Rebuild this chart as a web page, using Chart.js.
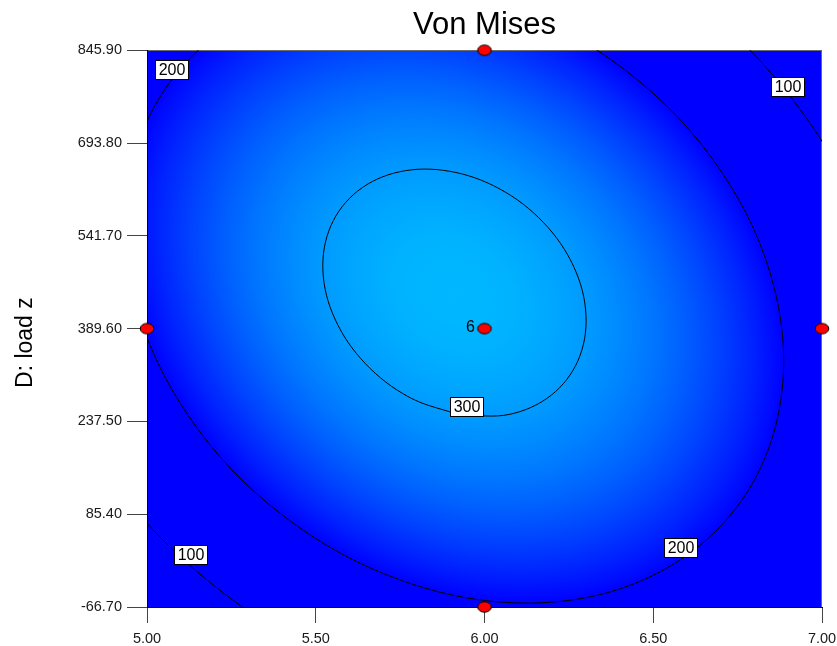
<!DOCTYPE html>
<html>
<head>
<meta charset="utf-8">
<script src="https://cdn.jsdelivr.net/npm/chart.js@4"></script>
<style>
  html, body { margin: 0; padding: 0; background: #ffffff; }
  #wrap { width: 837px; height: 646px; }
</style>
</head>
<body>
<div id="wrap"><canvas id="chart" width="837" height="646"></canvas></div>
<script>
// ---- chart text ----
const chartTitle = 'Von Mises';
const yAxisTitle = 'D: load z';

// ---- axis ticks ----
const xTickValues = [5.00, 5.50, 6.00, 6.50, 7.00];
const yTickValues = [-66.70, 85.40, 237.50, 389.60, 541.70, 693.80, 845.90];

// ---- design points (factor C on x, D: load z on y) and replicate counts ----
const designX = [6.00, 5.00, 6.00, 7.00, 6.00];
const designY = [845.90, 389.60, 389.60, 389.60, -66.70];
const designRuns = [1, 1, 6, 1, 1];

// ---- contour levels and their lines ----
const contourLevels = [300, 200, 100];

const contour300X = [5.9269, 5.7766, 5.6467, 5.5570, 5.5212, 5.5448, 5.6241, 5.7471, 5.8951, 6.0454, 6.1753, 6.2650, 6.3007, 6.2772, 6.1978, 6.0749, 5.9269];
const contour300Y = [247.9, 277.2, 332.4, 405.2, 484.4, 558.1, 615.0, 646.5, 647.6, 618.4, 563.1, 490.3, 411.1, 337.4, 280.5, 249.1, 247.9];

const contour200X = [5.6818, 6.0621, 6.4192, 6.6991, 6.8589, 6.8744, 6.7433, 6.4854, 6.1401, 5.7599, 5.4027, 5.1229, 4.9631, 4.9475, 5.0787, 5.3366, 5.6818];
const contour200Y = [955.7, 919.9, 812.2, 649.1, 455.3, 260.3, 93.9, -18.6, -60.2, -24.4, 83.3, 246.5, 440.3, 635.2, 801.6, 914.2, 955.7];

const contour100X = [5.6021, 6.1146, 6.5961, 6.9733, 7.1888, 7.2097, 7.0600, 6.6853, 6.2198, 5.7074, 5.2259, 4.8487, 4.6332, 4.6122, 4.7891, 5.1366, 5.6021];
const contour100Y = [1132.4, 1084.2, 939.1, 719.1, 457.9, 195.1, -60.0, -181.0, -236.9, -188.7, -43.5, 176.4, 437.7, 700.4, 924.8, 1076.5, 1132.4];

// ---- contour value tags ----
const tagLevel = [200, 100, 100, 300, 200];
const tagX = [5.073, 6.898, 5.128, 5.947, 6.580];
const tagY = [813.9, 786.1, 19.3, 262.6, 30.8];

// ---- response surface peak and the axes of its level ellipses ----
const peakXY = [5.911, 447.8];
const majorAxis = [0.3329, -141.5];
const minorAxis = [-0.2033, -145.8];

const FONT = '"Liberation Sans", Arial, Helvetica, sans-serif';

const toPoints = (xs, ys) => xs.map((x, i) => ({ x, y: ys[i] }));

// red elliptical marker used for the design points
function makeDot() {
  const c = document.createElement('canvas');
  c.width = 18; c.height = 14;
  const g = c.getContext('2d');
  g.beginPath();
  g.ellipse(9, 7, 6.8, 5.2, 0, 0, Math.PI * 2);
  g.fillStyle = '#ff0000';
  g.fill();
  g.lineWidth = 1;
  g.strokeStyle = '#000000';
  g.stroke();
  return c;
}

// blue-to-cyan shading of the response, brightest at the peak
const surfaceShade = {
  id: 'surfaceShade',
  beforeDraw(chart) {
    const { ctx, chartArea: a, scales: { x, y } } = chart;
    ctx.save();
    ctx.beginPath();
    ctx.rect(a.left, a.top, a.right - a.left, a.bottom - a.top);
    ctx.clip();
    const cx = x.getPixelForValue(peakXY[0]);
    const cy = y.getPixelForValue(peakXY[1]);
    const ux = x.getPixelForValue(peakXY[0] + majorAxis[0]) - cx;
    const uy = y.getPixelForValue(peakXY[1] + majorAxis[1]) - cy;
    const vx = x.getPixelForValue(peakXY[0] + minorAxis[0]) - cx;
    const vy = y.getPixelForValue(peakXY[1] + minorAxis[1]) - cy;
    ctx.transform(ux, uy, vx, vy, cx, cy);
    const grad = ctx.createRadialGradient(0, 0, 0, 0, 0, 2.51);
    const ramp = [[0, 184], [0.1, 182], [0.2, 177], [0.3, 167], [0.4, 155], [0.5, 138],
                  [0.6, 118], [0.7, 94], [0.8, 66], [0.9, 35], [1, 0]];
    ramp.forEach(([f, g]) => grad.addColorStop(f, 'rgb(0,' + g + ',255)'));
    ctx.fillStyle = grad;
    ctx.fillRect(-40, -40, 80, 80);
    ctx.restore();

    // grey frame on the top and right of the plot
    ctx.save();
    ctx.strokeStyle = '#6a6a6a';
    ctx.lineWidth = 1;
    const t = Math.round(a.top) + 0.5, r = Math.round(a.right) - 0.5;
    ctx.beginPath();
    ctx.moveTo(a.left, t);
    ctx.lineTo(r, t);
    ctx.lineTo(r, a.bottom);
    ctx.stroke();
    ctx.restore();
  }
};

// contour value tags, replicate count and the vertical axis title
const annotations = {
  id: 'annotations',
  afterDatasetsDraw(chart) {
    const { ctx, chartArea: a, scales: { x, y } } = chart;
    ctx.save();
    ctx.font = '16px ' + FONT;
    ctx.textAlign = 'center';
    ctx.textBaseline = 'middle';
    tagLevel.forEach((lv, i) => {
      const px = x.getPixelForValue(tagX[i]);
      const py = y.getPixelForValue(tagY[i]);
      const txt = String(lv);
      const w = Math.round(ctx.measureText(txt).width + 6), h = 19;
      const l = Math.round(px - w / 2) + 0.5, tp = Math.round(py - h / 2) + 0.5;
      ctx.fillStyle = '#ffffff';
      ctx.fillRect(l, tp, w, h);
      ctx.strokeStyle = '#000000';
      ctx.lineWidth = 1;
      ctx.strokeRect(l, tp, w, h);
      ctx.fillStyle = '#000000';
      ctx.fillText(txt, l + w / 2, tp + h / 2 + 1);
    });

    ctx.font = '16px ' + FONT;
    ctx.textAlign = 'right';
    designRuns.forEach((n, i) => {
      if (n > 1) {
        const px = x.getPixelForValue(designX[i]);
        const py = y.getPixelForValue(designY[i]);
        ctx.fillStyle = '#000000';
        ctx.fillText(String(n), px - 9.5, py - 1);
      }
    });

    ctx.font = '23px ' + FONT;
    ctx.textAlign = 'center';
    ctx.textBaseline = 'alphabetic';
    ctx.translate(a.left - 115, (a.top + a.bottom) / 2 + 14);
    ctx.rotate(-Math.PI / 2);
    ctx.fillStyle = '#000000';
    ctx.fillText(yAxisTitle, 0, 0);
    ctx.restore();
  }
};

const tickFont = { family: FONT, size: 14.5 };

const contourStyle = {
  showLine: true, borderColor: '#000000', borderWidth: 1,
  pointRadius: 0, tension: 0.35, fill: false, order: 1
};

new Chart(document.getElementById('chart'), {
  type: 'scatter',
  data: {
    datasets: [
      {
        label: 'Design points',
        data: toPoints(designX, designY),
        pointStyle: makeDot(),
        pointRadius: 7,
        showLine: false,
        clip: false,
        order: 0
      },
      Object.assign({ label: String(contourLevels[0]), data: toPoints(contour300X, contour300Y) }, contourStyle),
      Object.assign({ label: String(contourLevels[1]), data: toPoints(contour200X, contour200Y) }, contourStyle),
      Object.assign({ label: String(contourLevels[2]), data: toPoints(contour100X, contour100Y) }, contourStyle)
    ]
  },
  options: {
    responsive: false,
    animation: false,
    events: [],
    devicePixelRatio: 1,
    layout: { padding: { left: 0, right: 15, top: 0, bottom: 0 } },
    elements: { line: { capBezierPoints: false } },
    plugins: {
      legend: { display: false },
      tooltip: { enabled: false },
      title: {
        display: true,
        text: chartTitle,
        fullSize: false,
        color: '#000000',
        font: { family: FONT, size: 31, weight: 'normal' },
        padding: { top: 7, bottom: 6 }
      }
    },
    scales: {
      x: {
        type: 'linear',
        min: 5, max: 7,
        afterBuildTicks: (s) => { s.ticks = xTickValues.map(v => ({ value: v })); },
        afterFit: (s) => { s.height = 39; s.paddingLeft = 0; s.paddingRight = 0; },
        ticks: {
          callback: (v) => Number(v).toFixed(2),
          font: tickFont, color: '#1a1a1a', padding: 7,
          autoSkip: false, maxRotation: 0, minRotation: 0
        },
        grid: { drawOnChartArea: false, drawTicks: true, tickLength: 16, color: '#444444', lineWidth: 1 },
        border: { display: true, color: '#000000', width: 1 }
      },
      y: {
        type: 'linear',
        min: -66.7, max: 845.9,
        afterBuildTicks: (s) => { s.ticks = yTickValues.map(v => ({ value: v })); },
        afterFit: (s) => { s.width = 147; s.paddingTop = 0; s.paddingBottom = 0; },
        ticks: {
          callback: (v) => Number(v).toFixed(2),
          font: tickFont, color: '#1a1a1a', padding: 5,
          autoSkip: false
        },
        grid: { drawOnChartArea: false, drawTicks: true, tickLength: 20, color: '#444444', lineWidth: 1 },
        border: { display: true, color: '#000000', width: 1 }
      }
    }
  },
  plugins: [surfaceShade, annotations]
});
</script>
</body>
</html>
